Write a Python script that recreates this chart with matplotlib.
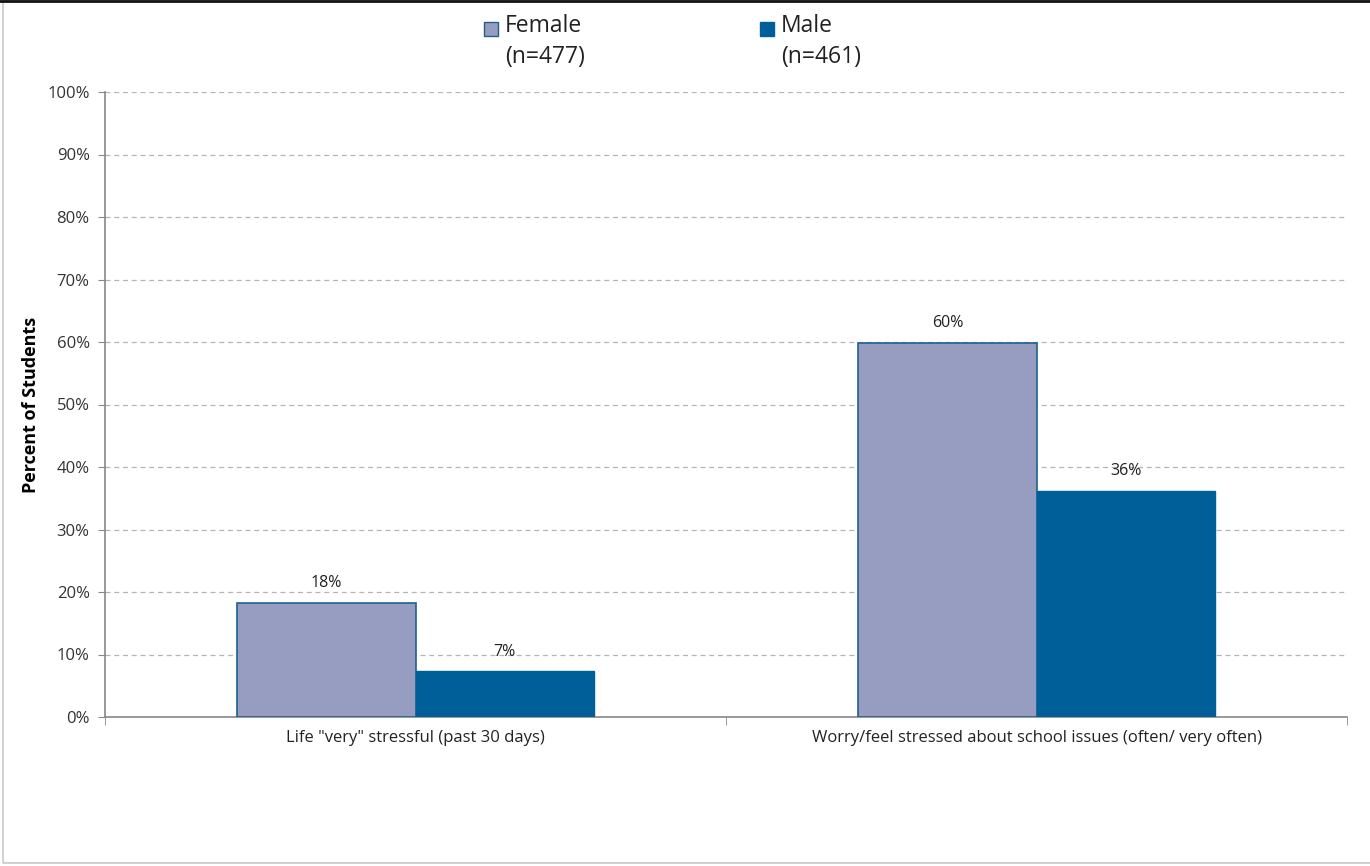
import matplotlib
matplotlib.use("Agg")
import matplotlib.pyplot as plt
from matplotlib.patches import Rectangle

categories = ['Life "very" stressful (past 30 days)',
              'Worry/feel stressed about school issues (often/ very often)']
female = [18.3, 59.8]
male = [7.3, 36.2]
female_label = "Female\n(n=477)"
male_label = "Male\n(n=461)"
yticks = list(range(0, 101, 10))

FEMALE_C = "#969dc0"
MALE_C = "#005f99"
EDGE_C = "#1f5f8f"

plt.rcParams["font.family"] = ["Open Sans", "DejaVu Sans"]

fig = plt.figure(figsize=(13.7, 8.66), dpi=100)
ax = fig.add_axes([105 / 1370, 1 - 717 / 866, 1242 / 1370, 625 / 866])

w = 0.287
xs = range(len(categories))
ax.bar([x - w / 2 for x in xs], female, w, color=FEMALE_C, edgecolor=EDGE_C,
       lw=1.2, zorder=3)
ax.bar([x + w / 2 for x in xs], male, w, color=MALE_C, edgecolor=MALE_C,
       lw=1.0, zorder=3)
for x, f, m in zip(xs, female, male):
    ax.text(x - w / 2, f + 1.9, f"{f:.0f}%", ha="center", va="bottom",
            fontsize=11.5, color="#222222", zorder=4)
    ax.text(x + w / 2, m + 1.9, f"{m:.0f}%", ha="center", va="bottom",
            fontsize=11.5, color="#222222", zorder=4)

ax.set_xlim(-0.5, len(categories) - 0.5)
ax.set_ylim(0, 100)
ax.set_yticks(yticks)
ax.set_yticklabels([f"{t}%" for t in yticks], fontsize=12, color="#333333")
ax.set_xticks(list(xs))
ax.set_xticklabels(categories, fontsize=12, color="#222222")
ax.tick_params(axis="x", length=0, pad=9)
ax.set_xticks([x - 0.5 for x in range(len(categories) + 1)], minor=True)
ax.tick_params(axis="x", which="minor", length=6, color="#888888", direction="out")
ax.tick_params(axis="y", length=5, color="#888888", direction="out", pad=6)

ax.grid(axis="y", ls=(0, (4, 3)), color="#b5b5b5", lw=0.9, zorder=0)
for s in ("top", "right"):
    ax.spines[s].set_visible(False)
for s in ("left", "bottom"):
    ax.spines[s].set_color("#888888")
    ax.spines[s].set_linewidth(1.2)

ax.set_ylabel("Percent of Students", fontsize=13, fontweight="bold", labelpad=5)

# legend entries at top
fig.patches.append(Rectangle((484 / 1370, 1 - 36 / 866), 14 / 1370, 14 / 866,
                             transform=fig.transFigure, facecolor=FEMALE_C,
                             edgecolor=EDGE_C, lw=1.0))
fig.text(505 / 1370, 1 - 14 / 866, female_label, ha="left", va="top",
         fontsize=16.5, color="#222222", linespacing=1.4)
fig.patches.append(Rectangle((760 / 1370, 1 - 36 / 866), 14 / 1370, 14 / 866,
                             transform=fig.transFigure, facecolor=MALE_C,
                             edgecolor=MALE_C, lw=1.0))
fig.text(781 / 1370, 1 - 14 / 866, male_label, ha="left", va="top",
         fontsize=16.5, color="#222222", linespacing=1.4)

# outer frame
fig.patches.append(Rectangle((3 / 1370, 3 / 866), 1.1, 1 - 4 / 866,
                             transform=fig.transFigure, fill=False,
                             edgecolor="#c8c8c8", lw=1.2))
fig.add_artist(plt.Line2D([0, 1], [1 - 1 / 866, 1 - 1 / 866],
                          transform=fig.transFigure, color="#111111", lw=2))

fig.savefig("out.png", dpi=100)
